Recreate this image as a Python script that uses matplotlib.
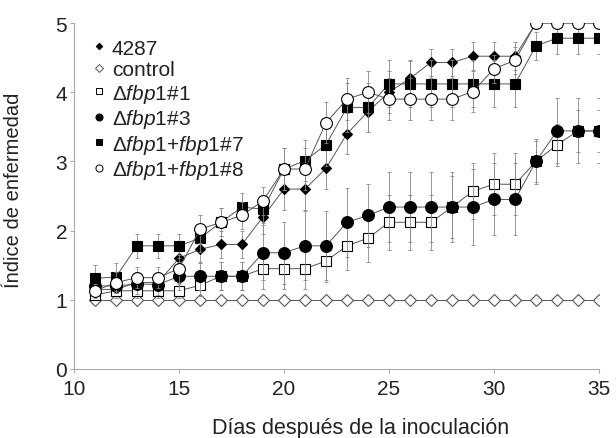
import numpy as np
import matplotlib
matplotlib.use("Agg")
import matplotlib.pyplot as plt
from matplotlib.lines import Line2D

plt.rcParams['font.family'] = ['Liberation Sans', 'DejaVu Sans']
plt.rcParams['mathtext.fontset'] = 'custom'
plt.rcParams['mathtext.rm'] = 'Liberation Sans'
plt.rcParams['mathtext.it'] = 'Liberation Sans:italic'

# --------------------------------------------------
# Data
# --------------------------------------------------
days = list(range(11, 36))

v_4287 = [1.15, 1.15, 1.25, 1.25, 1.6, 1.73, 1.8, 1.8, 2.2, 2.6, 2.6, 2.9, 3.4,
          3.72, 4.0, 4.2, 4.43, 4.43, 4.52, 4.52, 4.52, 5.0, 5.0, 5.0, 5.0]
e_4287 = [0.1, 0.1, 0.15, 0.15, 0.2, 0.2, 0.2, 0.2, 0.25, 0.3, 0.3, 0.3, 0.3,
          0.3, 0.3, 0.25, 0.2, 0.2, 0.2, 0.2, 0.2, 0, 0, 0, 0]

v_control = [1.0] * 25

v_1 = [1.07, 1.13, 1.13, 1.13, 1.13, 1.21, 1.34, 1.34, 1.45, 1.45, 1.45, 1.56, 1.78,
       1.89, 2.12, 2.12, 2.12, 2.34, 2.57, 2.67, 2.67, 3.0, 3.24, 3.44, 3.44]
e_1 = [0.05, 0.1, 0.1, 0.1, 0.1, 0.15, 0.2, 0.2, 0.3, 0.3, 0.3, 0.3, 0.35,
       0.35, 0.4, 0.4, 0.4, 0.45, 0.4, 0.45, 0.45, 0.3, 0.3, 0.3, 0.3]

v_3 = [1.2, 1.2, 1.23, 1.22, 1.34, 1.34, 1.34, 1.34, 1.68, 1.68, 1.78, 1.78, 2.12,
       2.22, 2.34, 2.34, 2.34, 2.34, 2.34, 2.45, 2.45, 3.0, 3.44, 3.44, 3.44]
e_3 = [0.1, 0.1, 0.15, 0.15, 0.2, 0.2, 0.2, 0.2, 0.4, 0.45, 0.5, 0.5, 0.5,
       0.45, 0.5, 0.5, 0.5, 0.5, 0.55, 0.52, 0.52, 0.32, 0.47, 0.47, 0.47]

v_7 = [1.31, 1.33, 1.78, 1.78, 1.78, 1.89, 2.12, 2.34, 2.31, 2.89, 3.01, 3.24, 3.78,
       3.78, 4.12, 4.12, 4.12, 4.12, 4.12, 4.12, 4.12, 4.67, 4.78, 4.78, 4.78]
e_7 = [0.2, 0.2, 0.17, 0.17, 0.17, 0.2, 0.2, 0.2, 0.2, 0.3, 0.3, 0.3, 0.35,
       0.35, 0.34, 0.34, 0.34, 0.34, 0.34, 0.34, 0.34, 0.2, 0.23, 0.23, 0.23]
# points of #7 that appear with an open marker in the original
open_days_7 = [17, 20]

v_8 = [1.13, 1.25, 1.32, 1.32, 1.45, 2.02, 2.12, 2.22, 2.43, 2.89, 2.89, 3.56, 3.9,
       4.0, 3.9, 3.9, 3.9, 3.9, 4.01, 4.34, 4.46, 5.0, 5.0, 5.0, 5.0]
e_8 = [0.1, 0.15, 0.15, 0.15, 0.2, 0.2, 0.2, 0.2, 0.2, 0.3, 0.3, 0.3, 0.3,
       0.3, 0.3, 0.3, 0.3, 0.3, 0.3, 0.2, 0.2, 0, 0, 0, 0]

labels = ['4287', 'control',
          r'$\Delta\mathit{fbp1\#1}$',
          r'$\Delta\mathit{fbp1\#3}$',
          r'$\Delta\mathit{fbp1{+}fbp1\#7}$',
          r'$\Delta\mathit{fbp1{+}fbp1\#8}$']

# --------------------------------------------------
# Figure
# --------------------------------------------------
fig = plt.figure(figsize=(6.16, 4.39), dpi=100)
ax = fig.add_axes([74 / 616, 69 / 439, 525 / 616, 346 / 439])

line_col = '#555555'
err_col = '#888888'
txt_col = '#222222'

series = [
    (v_4287, e_4287, 'D', 5.5, 'black', 'black'),
    (v_control, None, 'D', 6.5, 'white', '#555555'),
    (v_1, e_1, 's', 7.5, 'white', 'black'),
    (v_3, e_3, 'o', 8.5, 'black', 'black'),
    (v_7, e_7, 's', 7.5, 'black', 'black'),
    (v_8, e_8, 'o', 8.5, 'white', 'black'),
]

for i, (vals, errs, mk, ms, fc, ec) in enumerate(series):
    if errs is not None:
        ax.errorbar(days, vals, yerr=errs, fmt='none', ecolor=err_col,
                    elinewidth=0.6, capsize=1.5, capthick=0.6)
    ax.plot(days, vals, color=line_col, lw=0.7, marker=mk, ms=ms,
            mfc=fc, mec=ec, mew=0.8)
    if i == 4:
        od = [d for d in days if d in open_days_7]
        ov = [v_7[days.index(d)] for d in od]
        ax.plot(od, ov, ls='none', marker='s', ms=ms, mfc='white',
                mec='black', mew=0.8)

ax.set_xlim(10, 35)
ax.set_ylim(0, 5)
ax.set_xticks([10, 15, 20, 25, 30, 35])
ax.set_yticks([0, 1, 2, 3, 4, 5])
for s in ['top', 'right']:
    ax.spines[s].set_visible(False)
for s in ['left', 'bottom']:
    ax.spines[s].set_color('#aaaaaa')
    ax.spines[s].set_linewidth(0.8)
ax.tick_params(axis='both', colors='#aaaaaa', labelcolor=txt_col,
               labelsize=15, length=3, width=0.8)
ax.tick_params(axis='x', pad=4)
ax.tick_params(axis='y', pad=2)

ax.set_xlabel('Días después de la inoculación', fontsize=15.5, color=txt_col)
ax.set_ylabel('Índice de enfermedad', fontsize=14.5, color=txt_col)
ax.xaxis.set_label_coords(0.545, -0.14)
ax.yaxis.set_label_coords(-0.098, 0.52)

handles = []
for vals, errs, mk, ms, fc, ec in series:
    handles.append(Line2D([], [], ls='none', marker=mk, ms=ms * 0.6,
                          mfc=fc, mec=ec, mew=0.7))
leg = ax.legend(handles, labels, loc='upper left', bbox_to_anchor=(0.036, 0.955),
                frameon=False, fontsize=15, handlelength=0.6, handletextpad=0.3,
                labelspacing=0.12, borderaxespad=0, borderpad=0)
for t in leg.get_texts():
    t.set_color(txt_col)

fig.savefig('out.png', dpi=100)
